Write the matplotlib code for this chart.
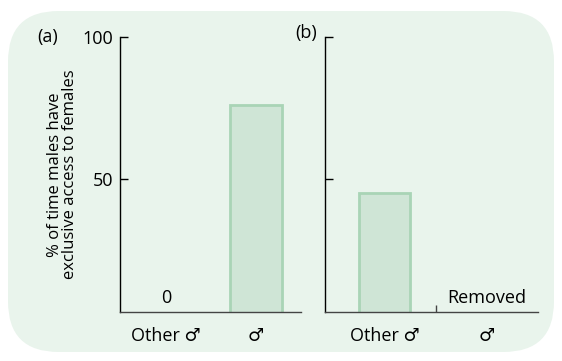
import matplotlib
matplotlib.use("Agg")
import matplotlib.pyplot as plt
from matplotlib.patches import FancyBboxPatch

plt.rcParams['font.family'] = ['Open Sans', 'DejaVu Sans']
plt.rcParams['font.size'] = 13

# data
cats_a = ["Other \u2642", "\u2642"]
vals_a = [0, 76]
cats_b = ["Other \u2642", "\u2642"]
vals_b = [45, 0]
yticks = [50, 100]

bg = "#e9f4ec"
fill = "#cfe5d6"
edge = "#a9d4b6"

fig = plt.figure(figsize=(5.62, 3.61), dpi=100)
fig.patch.set_facecolor("white")
box = FancyBboxPatch((8/562, 9/361), 546/562, 341/361,
                     boxstyle="round,pad=0,rounding_size=0.09",
                     transform=fig.transFigure, facecolor=bg, edgecolor="none",
                     mutation_aspect=562/361, zorder=-5)
fig.patches.append(box)

ax1 = fig.add_axes([120/562, 1-312/361, 181/562, 275/361])
ax2 = fig.add_axes([325/562, 1-312/361, 213/562, 275/361])

for ax in (ax1, ax2):
    ax.set_facecolor("none")
    ax.set_ylim(3.2, 100)
    ax.set_yticks(yticks)
    ax.spines['top'].set_visible(False)
    ax.spines['right'].set_visible(False)
    ax.spines['left'].set_linewidth(1.0)
    ax.spines['bottom'].set_linewidth(1.0)
    ax.spines['bottom'].set_color("#444444")
    ax.tick_params(axis='y', direction='in', length=6, width=1, pad=5)
    ax.tick_params(axis='x', length=0, pad=11)

ax1.bar([0, 1], vals_a, width=0.57, color=fill, edgecolor=edge, linewidth=2)
ax1.set_xlim(-0.51, 1.5)
ax1.set_xticks([0, 1])
ax1.set_xticklabels(cats_a)
ax1.text(0, 5, "0", ha='center', va='bottom')
ax1.set_ylabel("% of time males have\nexclusive access to females", labelpad=3,
               linespacing=0.9, fontsize=12)

ax2.bar([0, 1], vals_b, width=0.5, color=fill, edgecolor=edge, linewidth=2)
ax2.set_xlim(-0.59, 1.51)
ax2.set_xticks([0, 1])
ax2.set_xticklabels(cats_b)
ax2.set_xticks([0.5], minor=True)
ax2.tick_params(axis='x', which='minor', direction='in', length=5, width=1,
                color="#444444")
ax2.set_yticklabels([])
ax2.text(1, 5, "Removed", ha='center', va='bottom')

fig.text(48/562, 1-37/361, "(a)", ha='center', va='center')
fig.text(306/562, 1-33/361, "(b)", ha='center', va='center')

fig.savefig("out.png", dpi=100)
